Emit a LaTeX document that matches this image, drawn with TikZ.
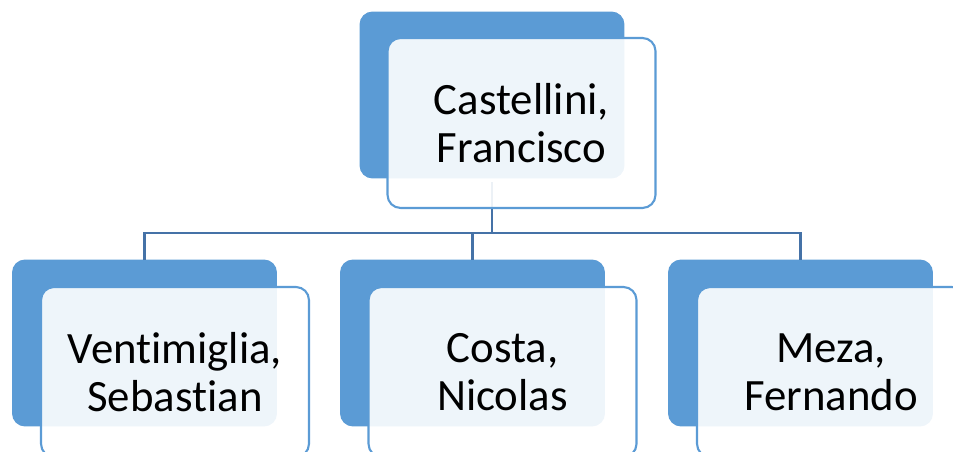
\documentclass[tikz,border=0pt]{standalone}
\usepackage{fontspec}
\setmainfont{Carlito}[Ligatures={NoCommon,NoRequired,NoContextual}]
\definecolor{accent}{RGB}{91,155,213}
\definecolor{connc}{RGB}{69,114,167}
\tikzset{
  backbox/.style={fill=accent, draw=none, rounded corners=0.26cm,
    minimum width=5.3cm, minimum height=3.34cm, inner sep=0pt, outer sep=0pt},
  frontbox/.style={fill=white, fill opacity=0.9, text opacity=1, draw=accent, draw opacity=1,
    line width=1.2pt, rounded corners=0.26cm, minimum width=5.36cm, minimum height=3.4cm,
    inner sep=0pt, outer sep=0pt, align=center, text=black,
    font=\fontsize{25.5}{27.5}\selectfont},
  conn/.style={draw=connc, line width=1.3pt}
}
\begin{document}
\begin{tikzpicture}[x=0.02cm, y=-0.02cm]
  \useasboundingbox (0,0) rectangle (953,452);
  \clip (0,0) rectangle (953,452);
  \coordinate (bus) at (492,233);
  \coordinate (lineTop) at (492,182);
  \node[backbox] (topback) at (492,95) {};
  \node[backbox] (leftback) at (144.5,343) {};
  \node[backbox] (midback) at (472.5,343) {};
  \node[backbox] (rightback) at (800.5,343) {};
  % connectors
  \draw[conn] (lineTop) -- (bus);
  \draw[conn] (leftback.north) |- (bus) -| (rightback.north);
  \draw[conn] (midback.north) -- (midback.north |- bus);
  % front boxes
  \node[frontbox] (topfront) at (521.5,123) {Castellini,\\Francisco};
  \node[frontbox] (leftfront) at (175,372) {Ventimiglia,\\Sebastian};
  \node[frontbox] (midfront) at (502.5,372) {Costa,\\Nicolas};
  \node[frontbox] (rightfront) at (831,372) {Meza,\\Fernando};
\end{tikzpicture}
\end{document}
